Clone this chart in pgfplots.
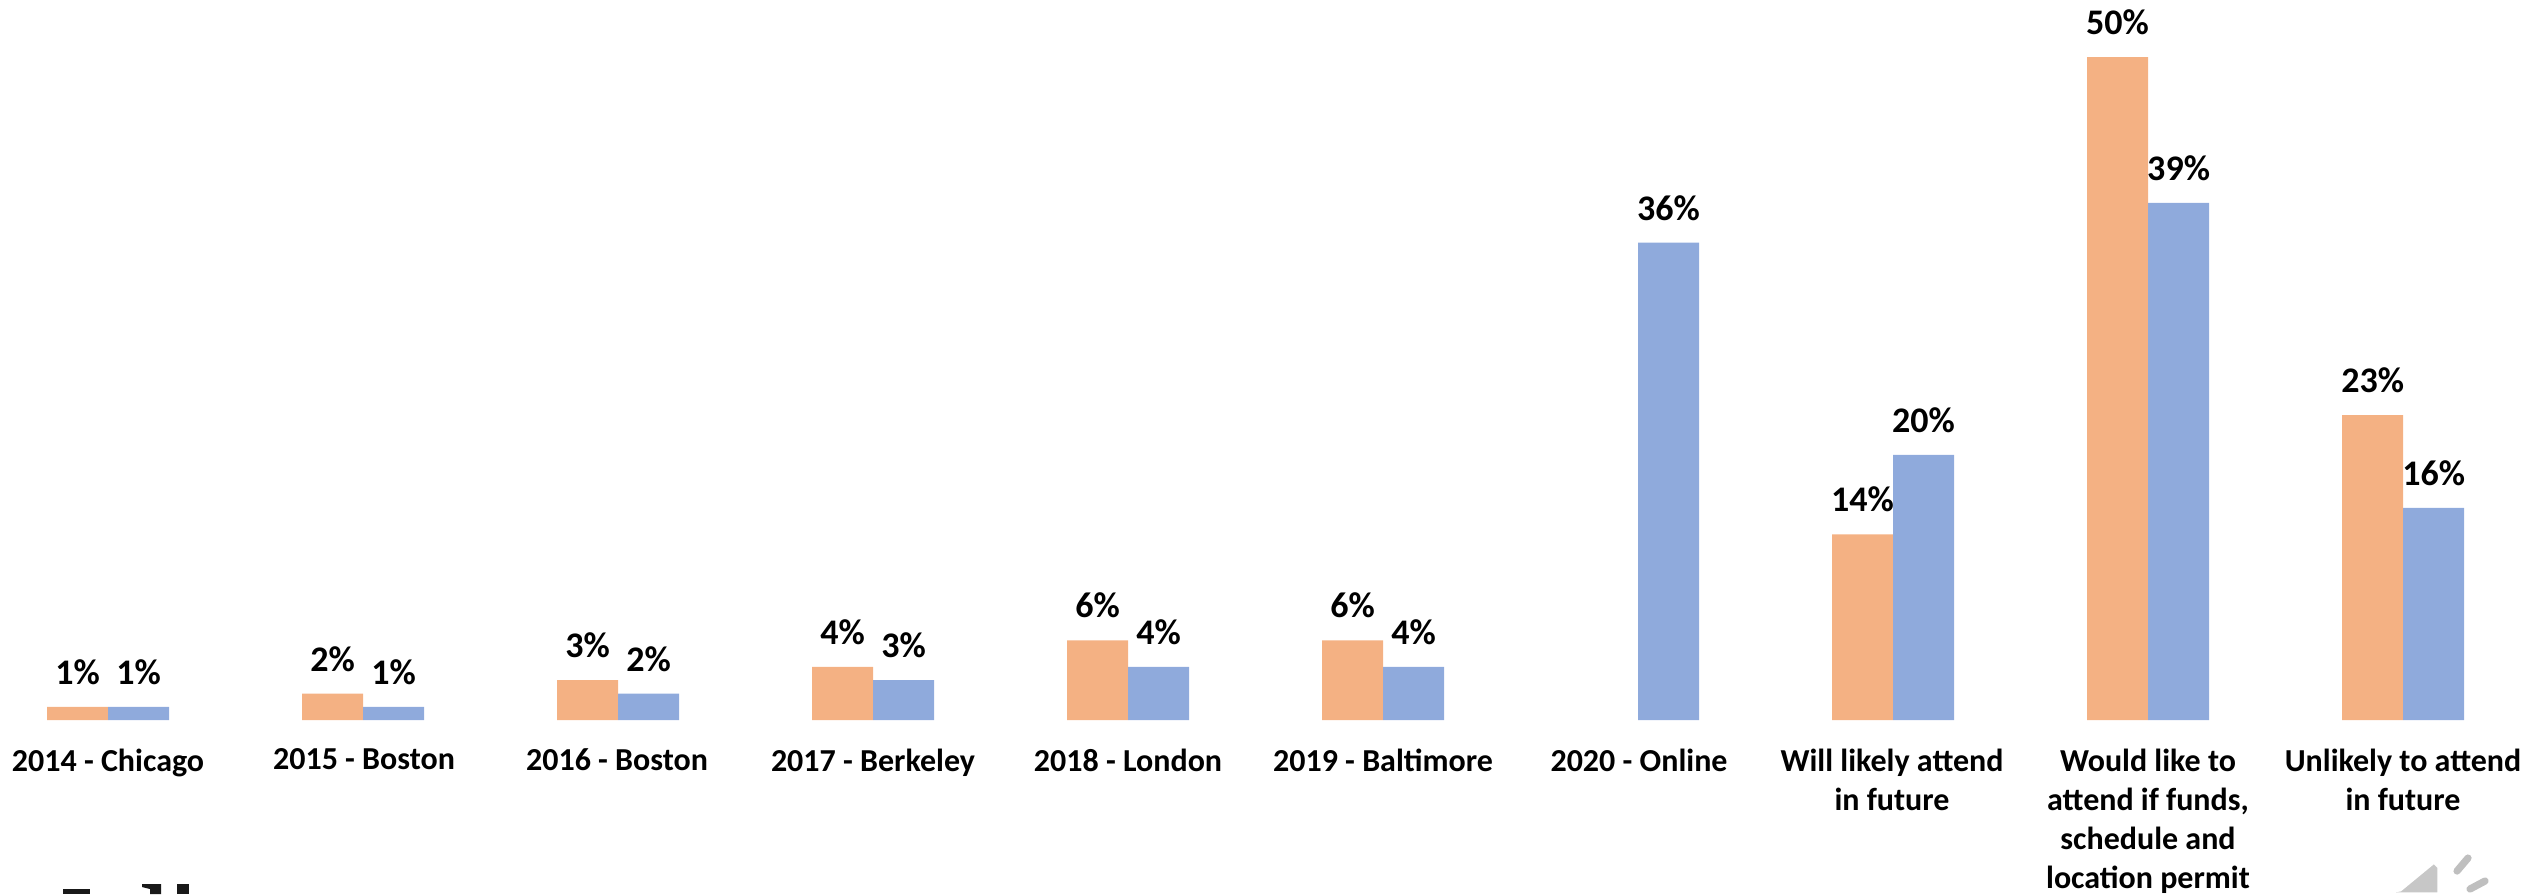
\documentclass[border=0pt]{standalone}
\usepackage{pgfplots}
\pgfplotsset{compat=1.18}
\usepackage{fontspec}
\setmainfont{Carlito}
\definecolor{barorange}{HTML}{F4B183}
\definecolor{barblue}{HTML}{8FAADC}
\begin{document}
\begin{tikzpicture}[x=0.25pt,y=0.25pt]
\useasboundingbox (0,-174) rectangle (2527,720);
\begin{axis}[
  at={(0,0)},anchor=south west,
  scale only axis,
  width=2527*0.25pt,height=720*0.25pt,
  xmin=-0.4235,xmax=9.486,ymin=0,ymax=54.3,
  axis lines=none,
  clip=false,
  ybar=0pt,
  bar width=61*0.25pt,
  /pgf/number format/assume math mode=true,
  nodes near coords={\pgfmathprintnumber{\pgfplotspointmeta}\%},
  every node near coord/.append style={anchor=base,yshift=22.5*0.25pt,font=\fontsize{9pt}{11pt}\selectfont\bfseries,text=black,inner sep=0pt},
  point meta=y,
]
\addplot[fill=barorange,draw=none] coordinates {(0,1)(1,2)(2,3)(3,4)(4,6)(5,6)(7,14)(8,50)(9,23)};
\addplot[fill=barblue,draw=none] coordinates {(0,1)(1,1)(2,2)(3,3)(4,4)(5,4)(6,36)(7,20)(8,39)(9,16)};
\end{axis}
\begin{scope}[every node/.style={font=\fontsize{8pt}{9.75pt}\selectfont\bfseries,align=center,anchor=north,inner sep=0pt}]
\node at (108,-28) {2014 - Chicago};
\node at (364,-28) {2015 - Boston};
\node at (617,-28) {2016 - Boston};
\node at (873,-28) {2017 - Berkeley};
\node at (1128,-28) {2018 - London};
\node at (1383,-28) {2019 - Baltimore};
\node at (1639,-28) {2020 - Online};
\node at (1892,-28) {Will likely attend\\in future};
\node at (2148,-28) {Would like to\\attend if funds,\\schedule and\\location permit};
\node at (2403,-28) {Unlikely to attend\\in future};
\end{scope}
% clipped remains of text at the lower edge
\fill[black!90] (63,-169) rectangle (90,-174);
\fill[black!90] (142,-164) -- (161,-164) -- (161,-174) -- (150,-174) -- (150,-169) -- (142,-167) -- cycle;
\fill[black!90] (177,-164) rectangle (189,-174);
% speaker icon
\filldraw[draw=white,line width=0.8pt,fill=black!22,line join=round] (2377,-172) -- (2400,-170) -- (2434,-142) -- (2439,-147) -- (2439,-174) -- (2377,-174) -- cycle;
\draw[white,line width=3.4pt,line cap=round] (2457,-151) -- (2468,-138);
\draw[black!25,line width=1.8pt,line cap=round] (2457,-151) -- (2468,-138);
\draw[white,line width=3.4pt,line cap=round] (2470,-169) -- (2485,-161);
\draw[black!25,line width=1.8pt,line cap=round] (2470,-169) -- (2485,-161);
\end{tikzpicture}
\end{document}
